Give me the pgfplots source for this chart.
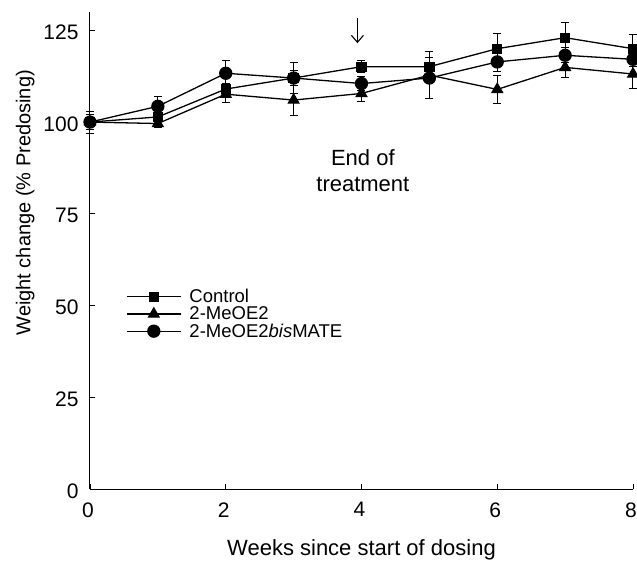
\documentclass[border=0pt]{standalone}
\usepackage{fontspec}
\setmainfont{Liberation Sans}
\usepackage{pgfplots}
\pgfplotsset{compat=1.18}
\usepackage{pgfplotstable}
\usetikzlibrary{arrows.meta}

% week  mean  err
\pgfplotstableread{
x y e
0 100 2
1 101.4 1.2
2 109 1.5
3 112 2
4 115.1 1.6
5 115.1 4
6 120 4.2
7 123 4.1
8 120 4
}\control
\pgfplotstableread{
x y e
0 100 2
1 99.6 1
2 107.6 2.4
3 106 4.1
4 107.8 2.3
5 112.8 2
6 108.9 3.8
7 114.9 2.7
8 113.1 3.9
}\meoe
\pgfplotstableread{
x y e
0 100 3
1 104.3 2.7
2 113.3 3.6
3 112 4.3
4 110.5 2
5 112 5.6
6 116.4 2.5
7 118.2 2
8 117.1 2
}\bismate

\begin{document}
\begin{tikzpicture}
\begin{axis}[
    scale only axis,
    width=543pt, height=477pt,
    xmin=0, xmax=8, ymin=0, ymax=130,
    axis lines=left,
    axis line style={line width=1pt, -},
    xtick={0,2,4,6,8},
    ytick={0,25,50,75,100,125},
    tick style={black, line width=0.8pt},
    major tick length=5pt,
    tick align=inside,
    ticklabel style={font=\fontsize{21}{23}\selectfont},
    yticklabel style={xshift=-8pt, yshift=-2pt},
    xticklabel style={yshift=-10pt, xshift=-2pt},
    /pgf/number format/assume math mode=true,
    xlabel={Weeks since start of dosing},
    ylabel={Weight change (\% Predosing)},
    xlabel style={font=\fontsize{22}{24}\selectfont, yshift=-15pt},
    ylabel style={font=\fontsize{20}{22}\selectfont, at={(ticklabel cs:0.6)}, yshift=2pt},
    every axis plot/.append style={black, line width=1.3pt},
    error bars/y dir=both, error bars/y explicit,
    error bars/error bar style={line width=1pt},
    error bars/error mark options={rotate=90, mark size=4pt, line width=1pt},
    legend style={at={(axis cs:0.53,55)}, anchor=north west, draw=none, fill=none,
        font=\fontsize{18.5}{18.5}\selectfont, row sep=-1.5pt, inner sep=0pt,
        nodes={inner xsep=8pt}},
    legend cell align=left,
    legend image code/.code={
        \draw[mark repeat=2, mark phase=2, #1] plot coordinates {(0pt,0pt) (27pt,0pt) (54pt,0pt)};
    },
    clip=false,
]
\addplot[mark=square*, mark size=4.5pt] table[x=x, y=y, y error=e] {\control};
\addlegendentry{Control}
\addplot[mark=triangle*, mark size=6pt] table[x=x, y=y, y error=e] {\meoe};
\addlegendentry{2-MeOE2}
\addplot[mark=*, mark size=6pt] table[x=x, y=y, y error=e] {\bismate};
\addlegendentry{2-MeOE2\textit{bis}MATE}

\draw[-{Straight Barb[length=7pt, width=12pt]}, line width=1.1pt] (axis cs:3.94,128.5) -- (axis cs:3.94,121.5);
\node[align=center, font=\fontsize{22}{26}\selectfont, anchor=north] at (axis cs:4.02,93.5) {End of\\treatment};
\coordinate (bl) at (rel axis cs:0,0);
\end{axis}
\pgfresetboundingbox
\path[use as bounding box] ([shift={(-90pt,-71pt)}]bl) rectangle ([shift={(547pt,489pt)}]bl);
\end{tikzpicture}
\end{document}
